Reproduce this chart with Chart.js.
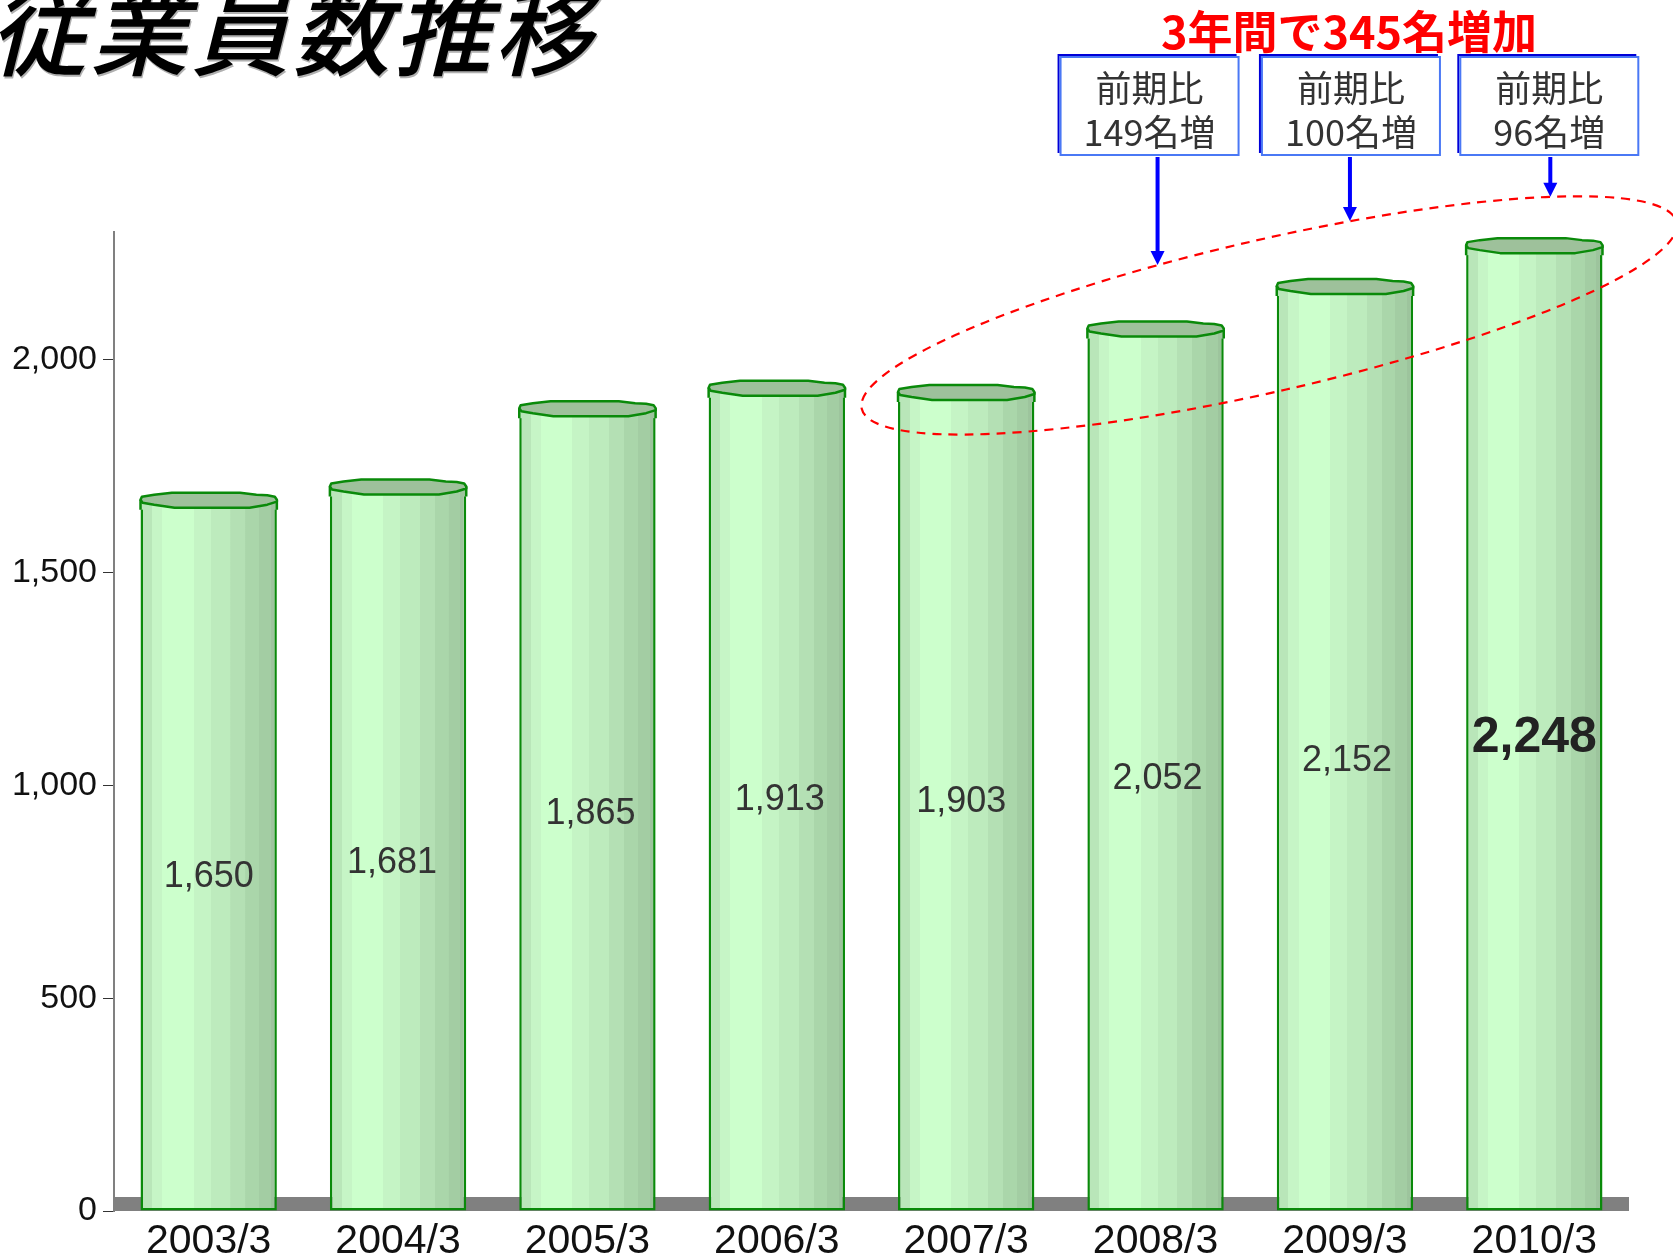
<!DOCTYPE html>
<html>
<head>
<meta charset="utf-8">
<script src="https://cdn.jsdelivr.net/npm/chart.js@4"></script>
<style>
  html, body { margin: 0; padding: 0; background: #fff; }
  canvas { display: block; }
</style>
</head>
<body>
<canvas id="staffChart" width="1673" height="1260"></canvas>
<script>
// chart data
const categories = ['2003/3', '2004/3', '2005/3', '2006/3', '2007/3', '2008/3', '2009/3', '2010/3'];
const employees = [1650, 1681, 1865, 1913, 1903, 2052, 2152, 2248];
const yTicks = [0, 500, 1000, 1500, 2000];
const chartTitle = '従業員数推移';
const headline = '3年間で345名増加';
const increaseIndex = [5, 6, 7];
const increaseText = [['前期比', '149名増'], ['前期比', '100名増'], ['前期比', '96名増']];

const JP = '"Noto Sans CJK JP", "Noto Sans", sans-serif';
const NUM = '"Liberation Sans", Arial, sans-serif';

// the value labels were nudged by hand in the original
const labelNudge = [[0, 17], [-6, 10], [3, 0], [3, -4], [-5, -4], [2, 5], [2, 8], [0, 6]];

// vertical bands to fake a cylinder
const bands = [
    [0, '#b9e6b9'], [0.086, '#c6f5c6'], [0.16, '#ccffcc'], [0.39, '#c5f4c5'],
    [0.515, '#bdebbd'], [0.66, '#b4e0b4'], [0.77, '#aad6aa'], [0.87, '#a3cda3'], [0.956, '#9dc49d']
];

function barFill(ctx, left, right) {
    const g = ctx.createLinearGradient(left, 0, right, 0);
    bands.forEach((b, i) => {
        const end = i < bands.length - 1 ? bands[i + 1][0] : 1;
        g.addColorStop(b[0], b[1]);
        g.addColorStop(end - 0.0001, b[1]);
    });
    return g;
}

// find top crossing of the dashed ellipse for an x position
function ellipseTop(e, x) {
    let best = null;
    for (let i = 0; i < 7200; i++) {
        const t = i / 7200 * Math.PI * 2;
        const px = e.cx + e.a * Math.cos(t) * Math.cos(e.rot) - e.b * Math.sin(t) * Math.sin(e.rot);
        const py = e.cy + e.a * Math.cos(t) * Math.sin(e.rot) + e.b * Math.sin(t) * Math.cos(e.rot);
        if (Math.abs(px - x) < 1 && (best === null || py < best)) best = py;
    }
    return best;
}

const decor = {
    id: 'decor',
    beforeDatasetsDraw(chart) {
        const { ctx, chartArea } = chart;
        // grey floor
        ctx.save();
        ctx.fillStyle = '#808080';
        ctx.fillRect(chartArea.left, chartArea.bottom - 14, chartArea.right - chartArea.left, 14);
        ctx.restore();
    },
    afterDatasetsDraw(chart) {
        const { ctx } = chart;
        const meta = chart.getDatasetMeta(0);
        meta.data.forEach((el, i) => {
            const L = el.x - el.width / 2, R = el.x + el.width / 2, W = el.width, y = el.y;
            ctx.save();
            // body up to the cap
            ctx.fillStyle = barFill(ctx, L, R);
            ctx.fillRect(L, y - 9, W, 10);
            ctx.strokeStyle = '#0a8a0a';
            ctx.lineWidth = 2.5;
            ctx.beginPath();
            ctx.moveTo(L, y - 9); ctx.lineTo(L, y + 1);
            ctx.moveTo(R, y - 9); ctx.lineTo(R, y + 1);
            ctx.stroke();
            // top cap
            const pts = [
                [0, -9], [0.01, -12], [0.1, -14], [0.23, -16], [0.73, -16], [0.85, -14], [0.93, -13.5], [0.985, -12], [1, -9],
                [1, -7], [0.93, -4], [0.8, -1], [0.25, -1], [0.1, -4], [0.015, -6]
            ];
            ctx.beginPath();
            pts.forEach((p, k) => {
                const px = L + p[0] * W, py = y + p[1];
                if (k === 0) ctx.moveTo(px, py); else ctx.lineTo(px, py);
            });
            ctx.closePath();
            ctx.fillStyle = '#9ec19b';
            ctx.fill();
            ctx.lineJoin = 'round';
            ctx.stroke();

            // value label
            const last = i === employees.length - 1;
            ctx.fillStyle = last ? '#222' : '#333';
            ctx.font = (last ? 'bold 50px ' : '36px ') + NUM;
            ctx.textAlign = 'center';
            ctx.textBaseline = 'middle';
            ctx.fillText(employees[i].toLocaleString('en-US'),
                el.x + labelNudge[i][0], (el.y + el.base) / 2 + labelNudge[i][1]);
            ctx.restore();
        });
    },
    afterDraw(chart) {
        const { ctx, scales } = chart;
        const xs = scales.x, ys = scales.y;
        ctx.save();

        // title, slanted
        ctx.save();
        ctx.translate(-14, 80);
        ctx.transform(1, 0, -0.25, 1, 0, 0);
        ctx.font = '500 98px ' + JP;
        ctx.letterSpacing = '3px';
        ctx.textBaseline = 'ideographic';
        ctx.fillStyle = '#b0b0b0';
        ctx.fillText(chartTitle, 1.5, 1.5);
        ctx.fillStyle = '#000';
        ctx.fillText(chartTitle, 0, 0);
        ctx.restore();

        // red headline
        ctx.font = 'bold 45px ' + JP;
        ctx.fillStyle = '#ff0000';
        ctx.textAlign = 'center';
        ctx.textBaseline = 'middle';
        ctx.fillText(headline, 1349, 32);

        // dashed ellipse around the last three years
        const ell = {
            cx: xs.getPixelForValue(5.6),
            cy: ys.getPixelForValue(2104),
            a: 418, b: 76, rot: -12.9 * Math.PI / 180
        };
        ctx.beginPath();
        ctx.ellipse(ell.cx, ell.cy, ell.a, ell.b, ell.rot, 0, Math.PI * 2);
        ctx.setLineDash([9, 7]);
        ctx.strokeStyle = '#ff0000';
        ctx.lineWidth = 2.2;
        ctx.stroke();
        ctx.setLineDash([]);

        // boxes + arrows
        const arrowShift = [2, 5, 16];
        const boxShift = [-6, 6, 15];
        increaseIndex.forEach((idx, k) => {
            const bx = xs.getPixelForValue(idx);
            const cx = bx + boxShift[k];
            const ax = bx + arrowShift[k];
            const top = 57, h = 98, w = 178;
            ctx.fillStyle = '#fff';
            ctx.fillRect(cx - w / 2, top, w, h);
            ctx.strokeStyle = '#0000d8';
            ctx.lineWidth = 2;
            ctx.beginPath();
            ctx.moveTo(cx - w / 2 - 2, top + h - 2);
            ctx.lineTo(cx - w / 2 - 2, top - 2);
            ctx.lineTo(cx + w / 2 - 2, top - 2);
            ctx.stroke();
            ctx.strokeStyle = '#4a78f5';
            ctx.strokeRect(cx - w / 2, top, w, h);

            ctx.fillStyle = '#333';
            ctx.font = '36px ' + JP;
            ctx.textAlign = 'center';
            ctx.textBaseline = 'middle';
            ctx.fillText(increaseText[k][0], cx, top + 31);
            ctx.fillText(increaseText[k][1], cx, top + 75);

            const tip = ellipseTop(ell, ax);
            ctx.strokeStyle = '#0000ff';
            ctx.fillStyle = '#0000ff';
            ctx.lineWidth = 4;
            ctx.beginPath();
            ctx.moveTo(ax, top + h + 2);
            ctx.lineTo(ax, tip - 12);
            ctx.stroke();
            ctx.beginPath();
            ctx.moveTo(ax - 7, tip - 14);
            ctx.lineTo(ax + 7, tip - 14);
            ctx.lineTo(ax, tip);
            ctx.closePath();
            ctx.fill();
        });
        ctx.restore();
    }
};

new Chart(document.getElementById('staffChart'), {
    type: 'bar',
    data: {
        labels: categories,
        datasets: [{
            label: '従業員数',
            data: employees,
            backgroundColor: (c) => {
                const chart = c.chart;
                const xs = chart.scales.x;
                if (!xs || !chart.chartArea || !xs.width) return '#c5f0c5';
                const cx = xs.getPixelForValue(c.dataIndex);
                const w = xs.width / categories.length * 0.72;
                return barFill(chart.ctx, cx - w / 2, cx + w / 2);
            },
            borderColor: '#0a8a0a',
            borderWidth: { top: 0, left: 2.5, right: 2.5, bottom: 2.5 },
            borderSkipped: false,
            barPercentage: 0.72,
            categoryPercentage: 1.0
        }]
    },
    options: {
        responsive: false,
        animation: false,
        devicePixelRatio: 1,
        layout: { padding: { top: 232, right: 44, bottom: 0, left: 0 } },
        plugins: {
            legend: { display: false },
            tooltip: { enabled: false }
        },
        scales: {
            x: {
                grid: { display: false, drawTicks: false },
                border: { display: false },
                ticks: { font: { family: NUM, size: 41 }, color: '#111', padding: 6 },
                afterFit: (s) => { s.height = 49; }
            },
            y: {
                min: 0,
                max: 2300,
                afterBuildTicks: (s) => { s.ticks = yTicks.map(v => ({ value: v })); },
                grid: { drawOnChartArea: false, tickLength: 11, tickColor: '#333', tickWidth: 1 },
                border: { color: '#808080', width: 2 },
                ticks: {
                    font: { family: NUM, size: 34 },
                    color: '#111',
                    padding: 6,
                    callback: (v) => v.toLocaleString('en-US')
                },
                afterFit: (s) => { s.width = 114; }
            }
        }
    },
    plugins: [decor]
});
</script>
</body>
</html>
